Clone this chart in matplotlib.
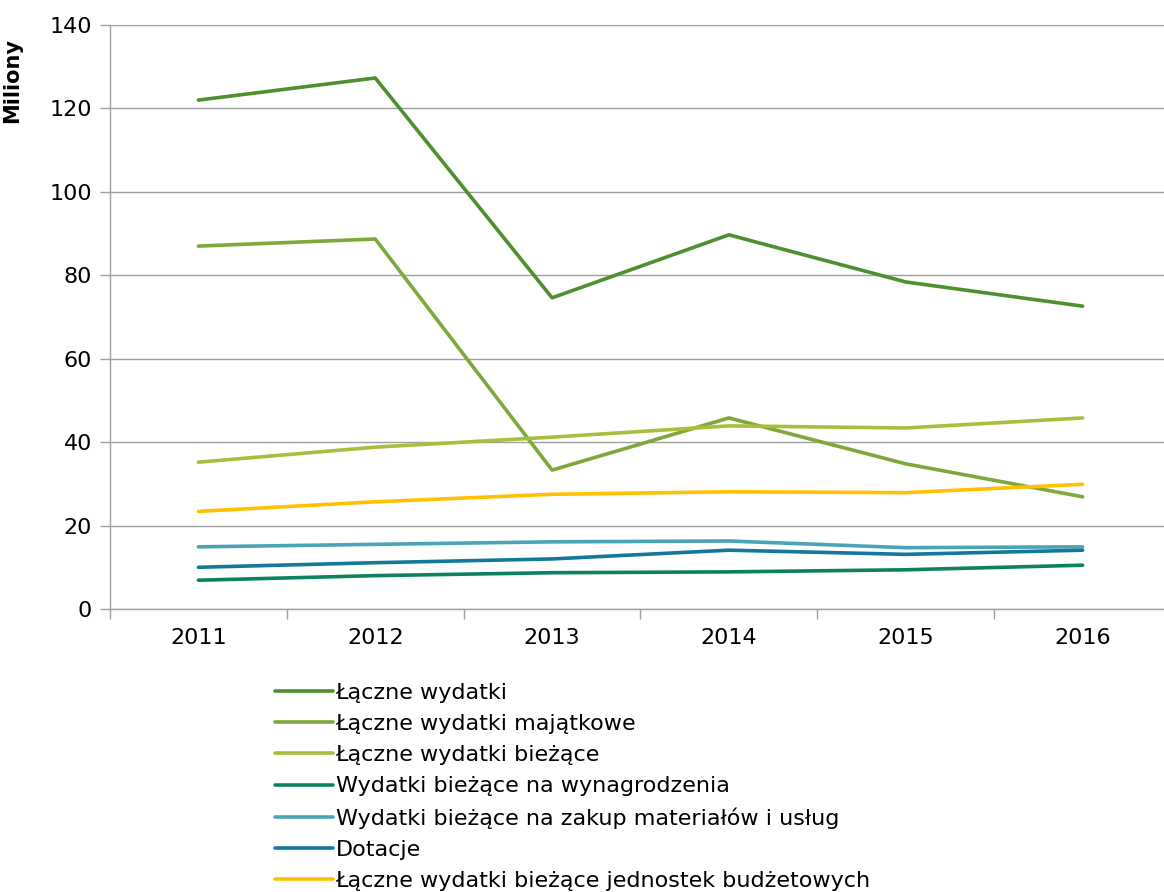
import numpy as np
import matplotlib.pyplot as plt

# data (millions)
years = ['2011', '2012', '2013', '2014', '2015', '2016']
laczne = [122.0, 127.3, 74.6, 89.7, 78.4, 72.6]
majatkowe = [87.0, 88.7, 33.3, 45.8, 34.8, 26.9]
biezace = [35.2, 38.8, 41.2, 43.9, 43.4, 45.8]
wynagrodzenia = [6.9, 8.0, 8.7, 8.9, 9.4, 10.5]
materialy = [14.9, 15.5, 16.1, 16.3, 14.7, 14.9]
dotacje = [10.0, 11.1, 12.0, 14.1, 13.1, 14.1]
jednostki = [23.4, 25.7, 27.5, 28.1, 27.9, 29.9]

labels = ['Łączne wydatki', 'Łączne wydatki majątkowe', 'Łączne wydatki bieżące',
          'Wydatki bieżące na wynagrodzenia', 'Wydatki bieżące na zakup materiałów i usług',
          'Dotacje', 'Łączne wydatki bieżące jednostek budżetowych']
series = [laczne, majatkowe, biezace, wynagrodzenia, materialy, dotacje, jednostki]
colors = ['#4e8f2e', '#7fa83a', '#a9be3c', '#0d8263', '#4ba4b5', '#12799a', '#ffc000']

plt.rcParams['font.family'] = ['DejaVu Sans']

fig = plt.figure(figsize=(11.64, 8.92), dpi=100)
ax = fig.add_axes([110 / 1164, 283 / 892, 1061 / 1164, 584 / 892])

x = np.arange(len(years))
for vals, lab, col in zip(series, labels, colors):
    ax.plot(x, vals, color=col, lw=2.6, label=lab, solid_capstyle='round')

ax.set_xlim(-0.5, len(years) - 0.5)
ax.set_ylim(0, 140)
ax.set_yticks(np.arange(0, 141, 20))
ax.set_xticks(x)
ax.set_xticklabels(years)
ax.set_xticks(np.arange(-0.5, len(years), 1), minor=True)
ax.tick_params(axis='x', which='major', length=0, pad=14, labelsize=16)
ax.tick_params(axis='x', which='minor', length=7, color='#a0a0a0', width=1)
ax.tick_params(axis='y', length=7, color='#a0a0a0', width=1, pad=6, labelsize=16)

ax.grid(axis='y', color='#a0a0a0', lw=1)
ax.set_axisbelow(True)
for s in ['top', 'right']:
    ax.spines[s].set_visible(False)
for s in ['left', 'bottom']:
    ax.spines[s].set_color('#a0a0a0')
    ax.spines[s].set_linewidth(1)

ax.set_ylabel('Miliony', fontsize=15, fontweight='bold')
ax.yaxis.set_label_coords(-0.083, 0.905)

fig.legend(loc='upper left', bbox_to_anchor=(275 / 1164, 1 - 683 / 892), frameon=False,
           fontsize=16, handlelength=2.6, handletextpad=0.13, labelspacing=0.5,
           borderaxespad=0, borderpad=0)

fig.savefig('out.png', dpi=100)
